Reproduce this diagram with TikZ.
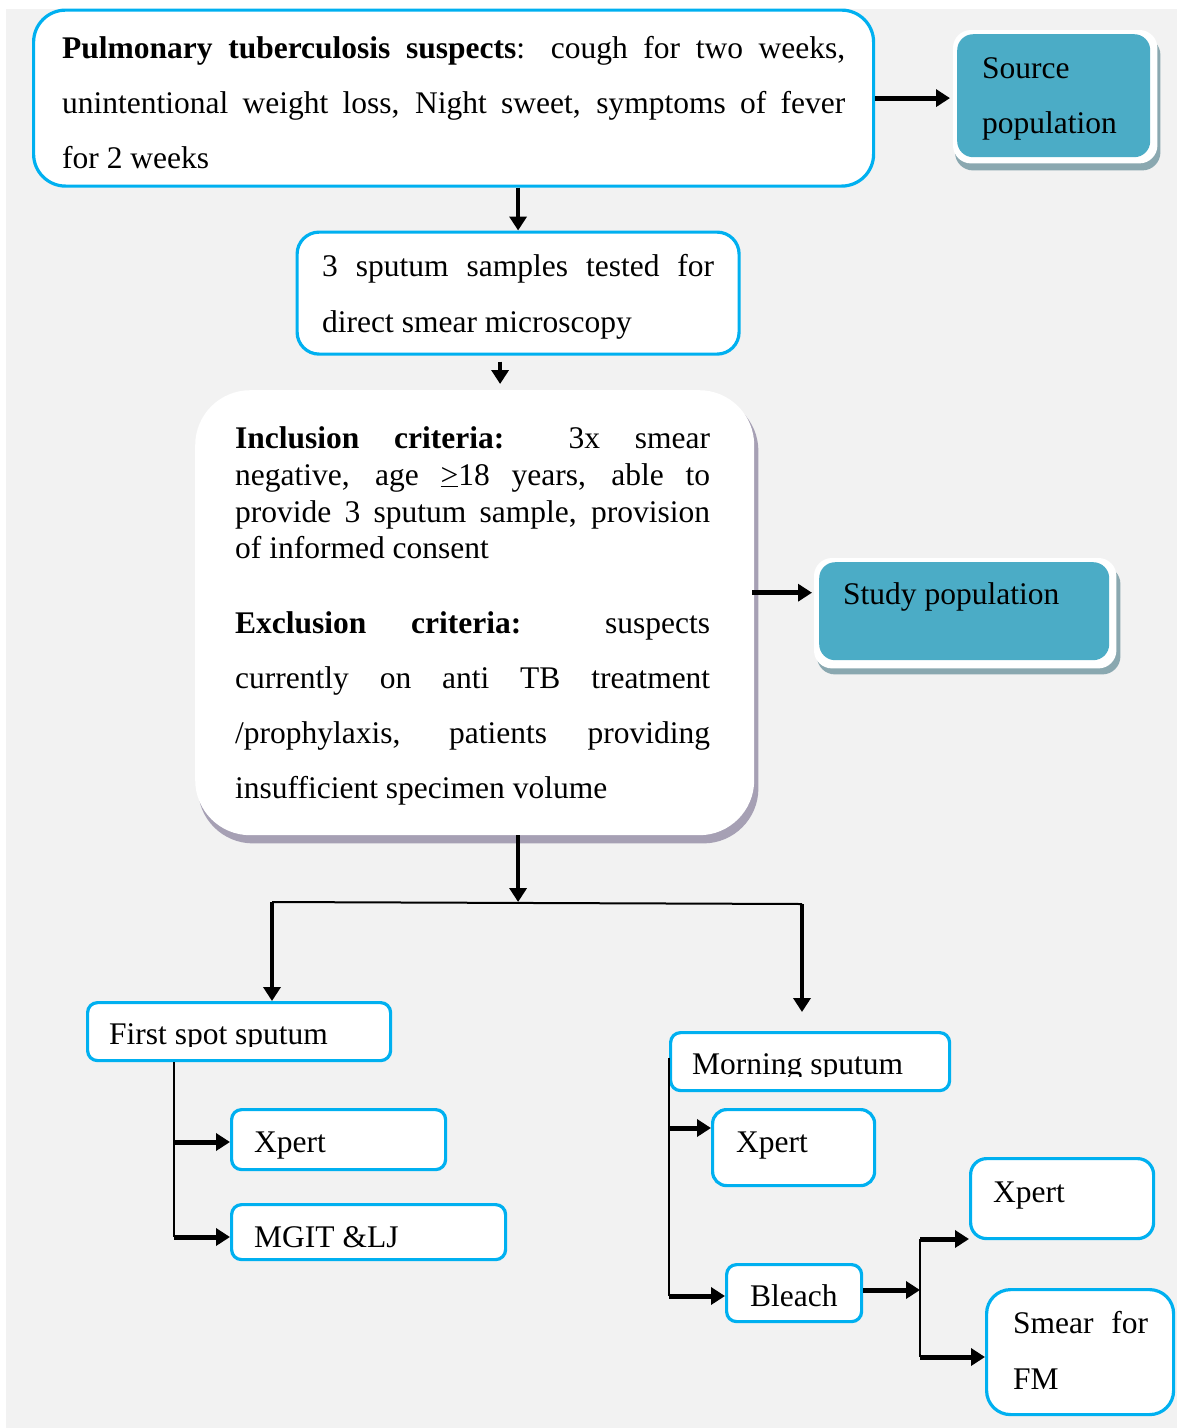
\documentclass[tikz,border=0pt]{standalone}
\usepackage{fontspec}
\setmainfont{Liberation Serif}
\usetikzlibrary{arrows.meta,backgrounds,calc}
\definecolor{cyanb}{HTML}{00B0F0}
\definecolor{tealf}{HTML}{4BACC6}
\definecolor{tshad}{RGB}{138,168,176}
\definecolor{cshad}{RGB}{166,160,180}
\definecolor{bggray}{HTML}{F2F2F2}
\tikzset{
  bluebox/.style={draw=cyanb, line width=3.2pt, fill=white, rounded corners=#1, anchor=north west, inner sep=0pt},
  bluebox/.default=10pt,
  tealbox/.style={fill=tealf, rounded corners=16pt, anchor=north west, inner sep=0pt},
  txt/.style={anchor=base west, inner sep=0pt, font=\fontsize{31.5pt}{37pt}\selectfont},
  arrS/.style={line width=5pt, -{Triangle[length=14pt,width=17pt]}},
  arrM/.style={line width=4pt, -{Triangle[length=14pt,width=17pt]}},
  thinl/.style={line width=2pt},
}
\begin{document}
\begin{tikzpicture}[x=1pt,y=-1pt]
\useasboundingbox (0,0) rectangle (1177,1428);
% boxes
\node[bluebox=32pt, minimum width=840pt, minimum height=176pt] (A) at (32,8.5) {};
\node[bluebox=22pt, minimum width=442pt, minimum height=122pt] (B) at (295.5,230.5) {};
\node[fill=white, rounded corners=55pt, anchor=north west, inner sep=0pt, minimum width=559pt, minimum height=445pt] (C) at (195,390) {};
\node[tealbox, minimum width=193pt, minimum height=123pt] (S) at (957,34) {};
\node[tealbox, minimum width=290pt, minimum height=98pt] (T) at (819,562) {};
\node[bluebox, minimum width=303pt, minimum height=58pt] (F) at (86,1001) {};
\node[bluebox, minimum width=214pt, minimum height=60pt] (X1) at (230,1108) {};
\node[bluebox, minimum width=274pt, minimum height=55pt] (M) at (230,1203) {};
\node[bluebox, minimum width=279pt, minimum height=58pt] (Mo) at (669,1031) {};
\node[bluebox=14pt, minimum width=162pt, minimum height=76pt] (X2) at (711,1108) {};
\node[bluebox, minimum width=135pt, minimum height=57pt] (Bl) at (725,1263) {};
\node[bluebox=16pt, minimum width=183pt, minimum height=80pt] (X3) at (969,1157) {};
\node[bluebox=24pt, minimum width=187pt, minimum height=125pt] (Sm) at (985,1288) {};
% texts
\node[txt] (a1) at (62,58) {\makebox[783pt][s]{\textbf{Pulmonary tuberculosis suspects}: cough for two weeks,}};
\node[txt] (a2) at (62,113) {\makebox[783pt][s]{unintentional weight loss, Night sweet, symptoms of fever}};
\node[txt] (a3) at (62,168) {for 2 weeks};
\node[txt] (b1t) at (322,276) {\makebox[392pt][s]{3 sputum samples tested for}};
\node[txt] (b2t) at (322,332) {direct smear microscopy};
\node[txt] (c1) at (235,448) {\makebox[475pt][s]{\textbf{Inclusion criteria:} 3x smear}};
\node[txt] (c2) at (235,485) {\makebox[475pt][s]{negative, age \underline{>}18 years, able to}};
\node[txt] (c3) at (235,522) {\makebox[475pt][s]{provide 3 sputum sample, provision}};
\node[txt] (c4) at (235,558) {of informed consent};
\node[txt] (c5) at (235,633) {\makebox[475pt][s]{\textbf{Exclusion criteria:} suspects}};
\node[txt] (c6) at (235,688) {\makebox[475pt][s]{currently on anti TB treatment}};
\node[txt] (c7) at (235,743) {\makebox[475pt][s]{/prophylaxis, patients providing}};
\node[txt] (c8) at (235,798) {insufficient specimen volume};
\node[txt] (s1) at (982,78) {Source};
\node[txt] (s2) at (982,133) {population};
\node[txt] (t1) at (843,604) {Study population};
\begin{scope}
\clip (86,1000) rectangle (392,1046);
\node[txt] (f1) at (109,1044) {First spot sputum};
\end{scope}
\begin{scope}
\clip (669,1030) rectangle (951,1076);
\node[txt] (mo1) at (692,1074) {Morning sputum};
\end{scope}
\node[txt] (x1t) at (254,1152) {Xpert};
\node[txt] (mt) at (254,1247) {MGIT \&LJ};
\node[txt] (x2t) at (736,1152) {Xpert};
\node[txt] (blt) at (750,1306) {Bleach};
\node[txt] (x3t) at (993,1202) {Xpert};
\node[txt] (sm1) at (1013,1333) {\makebox[135pt][s]{Smear for}};
\node[txt] (sm2) at (1013,1389) {FM};
% connectors
\draw[arrS, shorten >=7pt] (A.east) -- (A.east -| S.west);
\draw[arrM] (A.south -| B.north) -- (B.north);
\coordinate (bb) at ($(B.south)+(-18,6)$);
\draw[arrM, shorten >=6pt] (bb) -- (bb |- C.north);
\coordinate (ce) at ($(C.east)+(-2,-20)$);
\draw[arrS, shorten >=7pt] (ce) -- (ce -| T.west);
\coordinate (JL) at (272,902);
\coordinate (JR) at (802,904);
\coordinate (Jb) at (B.north |- JL);
\draw[arrM] (C.south -| B.north) -- (Jb);
\draw[thinl] (JL) -- (JR);
\draw[arrM] (JL) -- (JL |- F.north);
\coordinate (JRe) at (802,1012);
\draw[arrM] (JR) -- (JRe);
\coordinate (F1) at (174,1142);
\coordinate (F2) at (174,1237);
\draw[thinl] (F.south -| F1) -- (F2);
\draw[arrS] (F1) -- (X1.west |- F1);
\draw[arrS] (F2) -- (M.west |- F2);
\coordinate (G1) at (669,1128);
\coordinate (G2) at (669,1296);
\draw[thinl] ([yshift=4pt]Mo.west) -- (Mo.west |- G2);
\draw[arrS] (G1) -- (X2.west |- G1);
\draw[arrS] (G2) -- (Bl.west |- G2);
\coordinate (K) at (920,1290);
\draw[arrS] (Bl.east |- K) -- (K);
\coordinate (K1) at (920,1239);
\coordinate (K2) at (920,1357);
\draw[thinl] (K1) -- (K2);
\draw[arrS] (K1) -- (X3.west |- K1);
\draw[arrS] (K2) -- (Sm.west |- K2);
% backgrounds and shadows
\begin{pgfonlayer}{background}
\fill[bggray] (6,9) rectangle (1177,1428);
\fill[cshad, rounded corners=55pt] ([shift={(3,6)}]C.north west) rectangle ([shift={(4,8)}]C.south east);
\fill[tshad, rounded corners=18pt] ([shift={(-2,3)}]S.north west) rectangle ([shift={(10,13)}]S.south east);
\fill[white, rounded corners=18pt] ([shift={(-4,-4)}]S.north west) rectangle ([shift={(7,6)}]S.south east);
\fill[tshad, rounded corners=18pt] ([shift={(-2,4)}]T.north west) rectangle ([shift={(11,14)}]T.south east);
\fill[white, rounded corners=18pt] ([shift={(-5,-4)}]T.north west) rectangle ([shift={(7,8)}]T.south east);
\end{pgfonlayer}
\end{tikzpicture}
\end{document}
